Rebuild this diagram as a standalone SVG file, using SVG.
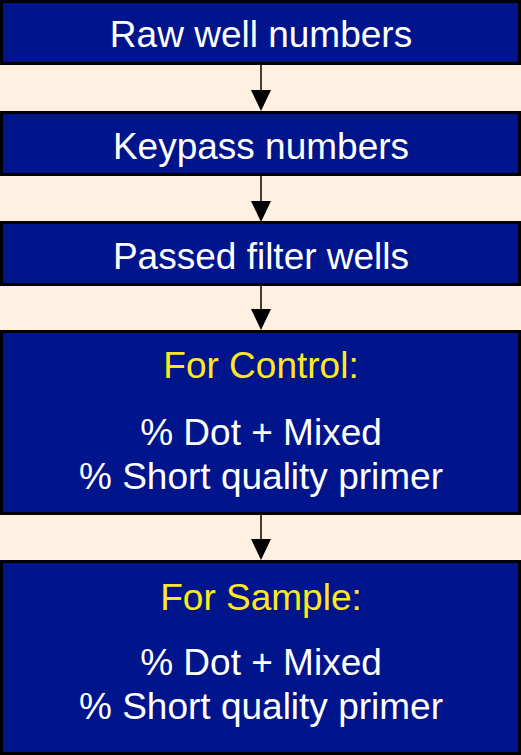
<svg xmlns="http://www.w3.org/2000/svg" width="521" height="755" viewBox="0 0 521 755">
  <style>
    .box { fill: #00148c; stroke: #000000; stroke-width: 3; }
    .txt { font-family: "Liberation Sans", Arial, sans-serif; font-size: 37px; fill: #ffffff; text-anchor: middle; }
    .head { fill: #ffe81e; }
    .link { stroke: #000000; stroke-width: 1.5; fill: none; }
    .tip { fill: #000000; }
  </style>
  <rect x="0" y="0" width="521" height="755" fill="#fff0e2"/>

  <g id="connectors">
    <line class="link" x1="261" y1="65" x2="261" y2="92"/>
    <polygon class="tip" points="251,90 271,90 261,111"/>
    <line class="link" x1="261" y1="176" x2="261" y2="203"/>
    <polygon class="tip" points="251,201 271,201 261,222"/>
    <line class="link" x1="261" y1="286" x2="261" y2="311"/>
    <polygon class="tip" points="251,309 271,309 261,330"/>
    <line class="link" x1="261" y1="515" x2="261" y2="541"/>
    <polygon class="tip" points="251,539 271,539 261,560"/>
  </g>

  <g id="raw-wells">
    <rect class="box" x="1.5" y="1.5" width="518" height="62"/>
    <text class="txt" x="261" y="47">Raw well numbers</text>
  </g>

  <g id="keypass">
    <rect class="box" x="1.5" y="112.5" width="518" height="62"/>
    <text class="txt" x="261" y="159">Keypass numbers</text>
  </g>

  <g id="passed-filter">
    <rect class="box" x="1.5" y="222.5" width="518" height="62"/>
    <text class="txt" x="261" y="269">Passed filter wells</text>
  </g>

  <g id="control">
    <rect class="box" x="1.5" y="331.5" width="518" height="182"/>
    <text class="txt head" x="261" y="378">For Control:</text>
    <text class="txt" x="261" y="445">% Dot + Mixed</text>
    <text class="txt" x="261" y="489">% Short quality primer</text>
  </g>

  <g id="sample">
    <rect class="box" x="1.5" y="561.5" width="518" height="192"/>
    <text class="txt head" x="261" y="610">For Sample:</text>
    <text class="txt" x="261" y="675">% Dot + Mixed</text>
    <text class="txt" x="261" y="719">% Short quality primer</text>
  </g>
</svg>
